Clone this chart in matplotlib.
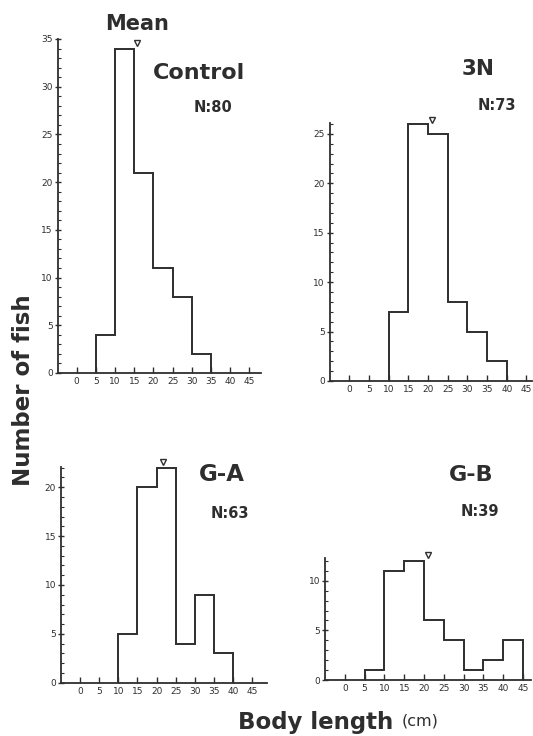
import matplotlib
matplotlib.use("Agg")
import matplotlib.pyplot as plt
from matplotlib.ticker import MultipleLocator

W, H = 533, 736
INK = "#2e2e2e"

# ---- data ----
control_edges = [5, 10, 15, 20, 25, 30, 35]
control_counts = [4, 34, 21, 11, 8, 2]
n3_edges = [10, 15, 20, 25, 30, 35, 40]
n3_counts = [7, 26, 25, 8, 5, 2]
ga_edges = [10, 15, 20, 25, 30, 35, 40]
ga_counts = [5, 20, 22, 4, 9, 3]
gb_edges = [5, 10, 15, 20, 25, 30, 35, 40, 45]
gb_counts = [1, 11, 12, 6, 4, 1, 2, 4]

means = {"Control": (15.7, 34.6), "3N": (21.1, 26.4), "G-A": (21.7, 22.6), "G-B": (21.0, 12.6)}
x_ticks = [0, 5, 10, 15, 20, 25, 30, 35, 40, 45]

fig = plt.figure(figsize=(W / 100, H / 100), dpi=100)
fig.patch.set_facecolor("white")


def px_axes(left, right, top, bottom):
    return fig.add_axes([left / W, 1 - bottom / H, (right - left) / W, (bottom - top) / H])


panels = [
    ("Control", control_edges, control_counts, (57.5, 261, 39, 373), (-5, 48), 35, [0, 5, 10, 15, 20, 25, 30, 35]),
    ("3N", n3_edges, n3_counts, (329.6, 532, 123, 381), (-5, 46.4), 26.1, [0, 5, 10, 15, 20, 25]),
    ("G-A", ga_edges, ga_counts, (61, 267, 466.7, 682.7), (-5, 48.9), 22.1, [0, 5, 10, 15, 20]),
    ("G-B", gb_edges, gb_counts, (325, 531, 558, 680), (-5, 47), 12.3, [0, 5, 10]),
]

for name, edges, counts, box, xlim, ytop, yticks in panels:
    ax = px_axes(*box)
    ax.stairs(counts, edges, baseline=0, fill=False, color=INK, lw=1.4)
    mx, my = means[name]
    ax.plot([mx], [my], marker="v", ms=5, mfc="white", mec=INK, mew=1.0,
            clip_on=False, ls="none")
    ax.set_xlim(*xlim)
    ax.set_ylim(0, ytop)
    for s in ("top", "right"):
        ax.spines[s].set_visible(False)
    for s in ("left", "bottom"):
        ax.spines[s].set_color(INK)
        ax.spines[s].set_linewidth(1.3)
    ax.set_xticks(x_ticks)
    ax.set_xticklabels([str(t) for t in x_ticks])
    ax.set_yticks(yticks)
    ax.set_yticklabels([str(t) for t in yticks])
    ax.yaxis.set_minor_locator(MultipleLocator(1))
    ax.tick_params(axis="x", direction="in", length=4, width=1.0, color=INK,
                   labelsize=6.5, labelcolor=INK, pad=3)
    ax.tick_params(axis="y", which="major", direction="inout", length=5, width=1.0,
                   color=INK, labelsize=6.5, labelcolor=INK, pad=1)
    ax.tick_params(axis="y", which="minor", direction="in", length=2.5, width=0.8, color=INK)
    ax.patch.set_alpha(0)


def ftext(x, y, s, ha="center", **kw):
    fig.text(x / W, 1 - y / H, s, ha=ha, va="center", color=INK, **kw)


ftext(137, 24, "Mean", fontsize=15, fontweight="bold")
ftext(199, 73, "Control", fontsize=16, fontweight="bold")
ftext(213, 108, "N:80", fontsize=10.5, fontweight="bold")
ftext(478, 69, "3N", fontsize=15.5, fontweight="bold")
ftext(497, 105, "N:73", fontsize=10.5, fontweight="bold")
ftext(222, 475, "G-A", fontsize=16.5, fontweight="bold")
ftext(230, 513, "N:63", fontsize=10.5, fontweight="bold")
ftext(471, 475, "G-B", fontsize=16, fontweight="bold")
ftext(480, 512, "N:39", fontsize=10.5, fontweight="bold")

ftext(24, 390, "Number of fish", fontsize=16.5, fontweight="bold", rotation=90)
ftext(316, 722, "Body length", fontsize=16.5, fontweight="bold")
ftext(402, 721, "(cm)", ha="left", fontsize=11.5)

fig.savefig("out.png", dpi=100, facecolor="white")
